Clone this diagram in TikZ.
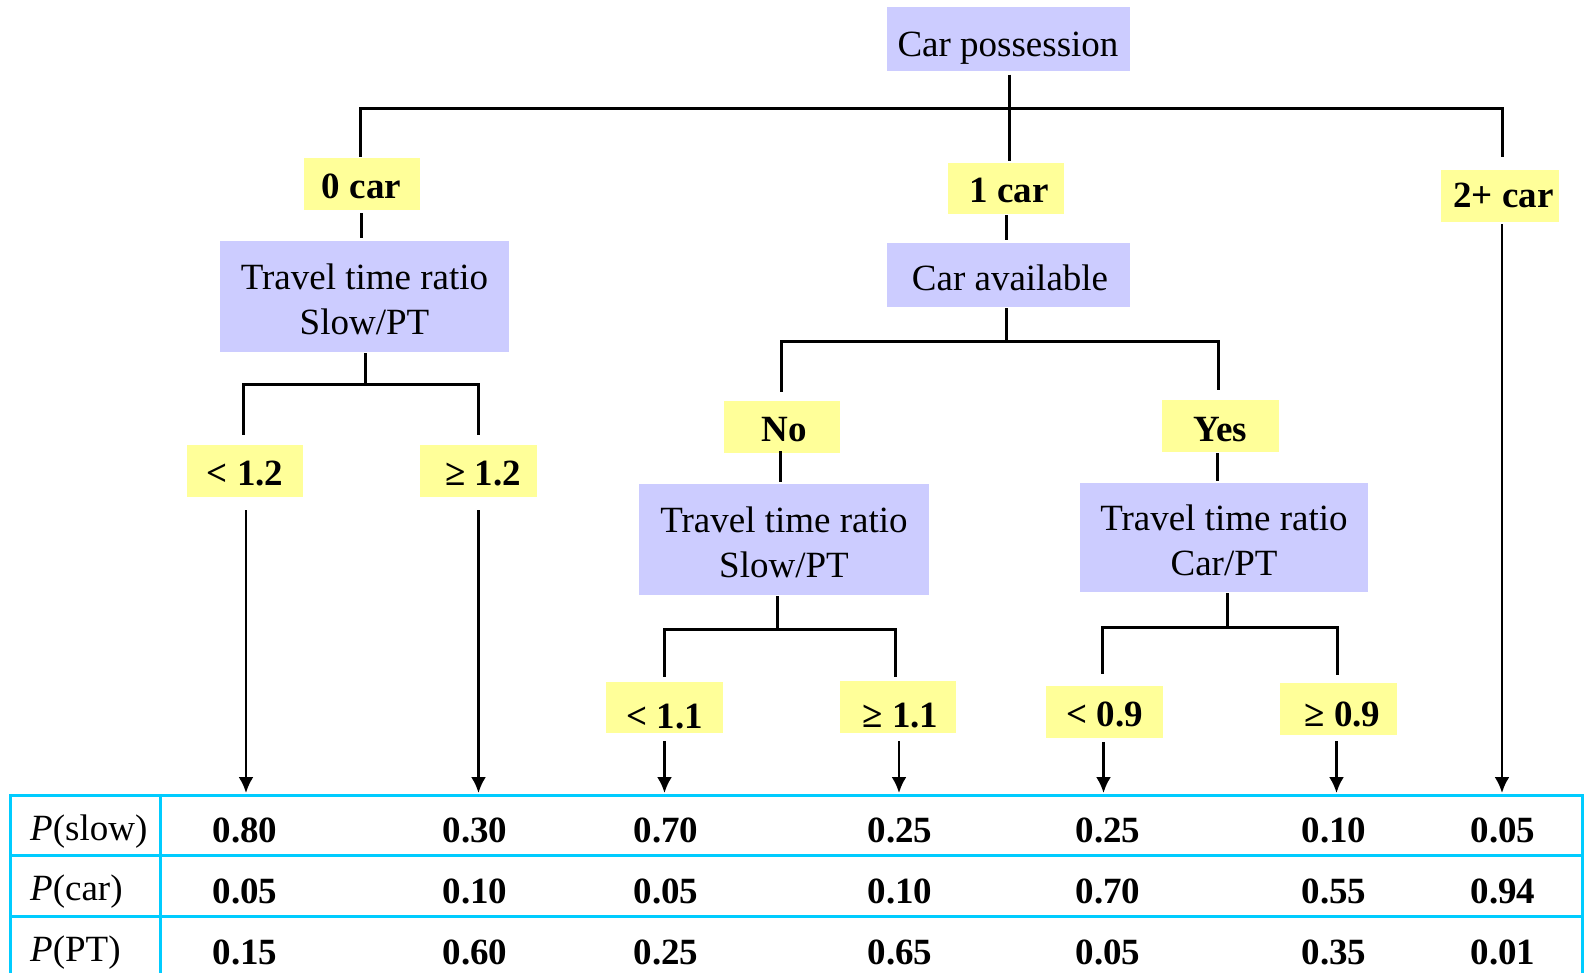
\documentclass[tikz,border=0pt]{standalone}
\usepackage{fontspec}
\setmainfont{Liberation Serif}
\usetikzlibrary{arrows.meta,calc}
\definecolor{boxblue}{RGB}{204,204,255}
\definecolor{boxyellow}{RGB}{255,255,153}
\definecolor{gridcyan}{RGB}{0,204,255}
\newcommand{\twolines}[2]{\begin{tabular}[b]{@{}c@{}}#1\\#2\end{tabular}}
\begin{document}
\begin{tikzpicture}[x=1pt,y=-1pt,
  every node/.style={inner sep=0pt, font=\fontsize{37}{45}\selectfont},
  question/.style={fill=boxblue, text depth=0pt},
  answer/.style={fill=boxyellow, text depth=0pt, font=\fontsize{37}{45}\selectfont\bfseries},
  link/.style={line width=3pt},
  leaf/.style={line width=2.5pt, -{Latex[length=16pt,width=15pt]}},
  grid/.style={line width=3pt, draw=gridcyan},
  val/.style={anchor=base, font=\fontsize{37}{45}\selectfont\bfseries},
  rowlab/.style={anchor=base west}]
\useasboundingbox (0,0) rectangle (1585,973);

% decision nodes (text height = twice the drop of the last baseline below the centre)
\node[question, minimum width=243pt, minimum height=64pt, text height=34pt] (root)  at (1008,39.5)  {Car possession};
\node[question, minimum width=289pt, minimum height=111pt, text height=77pt] (t1)   at (364.5,296.5) {\twolines{Travel time ratio}{Slow/PT}};
\node[question, minimum width=243pt, minimum height=64pt, text height=32pt] (avail) at (1008,275)   {\hspace*{4pt}Car available};
\node[question, minimum width=290pt, minimum height=111pt, text height=76pt] (t2)   at (784,539.5)  {\twolines{Travel time ratio}{Slow/PT}};
\node[question, minimum width=288pt, minimum height=109pt, text height=75pt] (t3)   at (1224,537.5) {\twolines{Travel time ratio}{Car/PT}};

% branch labels
\node[answer, minimum width=116pt, minimum height=52pt, text height=30pt] (car0) at (361.5,184)  {0 car};
\node[answer, minimum width=116pt, minimum height=51pt, text height=28pt] (car1) at (1006,188.5) {\hspace*{6pt}1 car};
\node[answer, minimum width=118pt, minimum height=52pt, text height=24pt] (car2) at (1500,196)   {\hspace*{7pt}2+ car};
\node[answer, minimum width=116pt, minimum height=52pt, text height=30pt] (no)   at (782,427)    {\hspace*{4pt}No};
\node[answer, minimum width=117pt, minimum height=52pt, text height=30pt] (yes)  at (1220.5,426) {Yes};
\node[answer, minimum width=116pt, minimum height=52pt, text height=28pt] (l12)  at (245,471)    {< 1.2};
\node[answer, minimum width=117pt, minimum height=52pt, text height=28pt] (g12)  at (478.5,471)  {\hspace*{9pt}≥ 1.2};
\node[answer, minimum width=117pt, minimum height=51pt, text height=41pt] (l11)  at (664.5,707.5) {< 1.1};
\node[answer, minimum width=116pt, minimum height=52pt, text height=40pt] (g11)  at (898,707)    {\hspace*{5pt}≥ 1.1};
\node[answer, minimum width=117pt, minimum height=52pt, text height=28pt] (l09)  at (1104.5,712) {< 0.9};
\node[answer, minimum width=117pt, minimum height=52pt, text height=35pt] (g09)  at (1338.5,709) {\hspace*{8pt}≥ 0.9};

% junction points
\coordinate (jtop)   at (1009,109);
\coordinate (jt1)    at (365,385);
\coordinate (javail) at (1006,342);
\coordinate (jt2)    at (777,629);
\coordinate (jt3)    at (1227,627);
\coordinate (ttop)   at (0,793);

% tree connectors
\draw[link] ($(jtop |- root.south)+(0,3)$) -- (jtop);
\draw[link] ($(car0.north)+(-1,-1)$) |- (jtop) -| ($(car2.north)+(2,-13)$);
\draw[link] (jtop) -- ($(jtop |- car1.north)+(0,-2)$);
\draw[link] ($(car0.south)+(0,3)$) -- ($(car0.south |- t1.north)+(0,-3)$);
\draw[link] ($(jt1 |- t1.south)+(0,1)$) -- (jt1);
\draw[link] ($(l12.north)+(-2,-10)$) |- (jt1) -| ($(g12.north)+(0,-10)$);

\draw[link] ($(car1.south)+(0,1)$) -- ($(car1.south |- avail.north)+(0,-3)$);
\draw[link] ($(javail |- avail.south)+(0,1)$) -- (javail);
\draw[link] ($(no.north)+(-1,-9)$) |- (javail) -| ($(yes.north)+(-2,-10)$);
\draw[link] ($(no.south)+(-2,-2)$) -- ($(no.south |- t2.north)+(-2,-2)$);
\draw[link] ($(yes.south)+(-3,1)$) -- ($(yes.south |- t3.north)+(-3,-2)$);

\draw[link] ($(jt2 |- t2.south)+(0,1)$) -- (jt2);
\draw[link] ($(l11.north)+(0,-5)$) |- (jt2) -| ($(g11.north)+(-3,-4)$);
\draw[link] ($(jt3 |- t3.south)+(0,1)$) -- (jt3);
\draw[link] ($(l09.north)+(-2,-12)$) |- (jt3) -| ($(g09.north)+(-1,-8)$);

% arrows into the table
\draw[leaf] ($(l12.south)+(1,13)$) -- ($(l12.south |- ttop)+(1,0)$);
\draw[leaf] ($(g12.south)+(0,13)$) -- (g12.south |- ttop);
\draw[leaf] ($(l11.south)+(0,8)$)  -- (l11.south |- ttop);
\draw[leaf] ($(g11.south)+(1,8)$)  -- ($(g11.south |- ttop)+(1,0)$);
\draw[leaf] ($(l09.south)+(-1,4)$) -- ($(l09.south |- ttop)+(-1,0)$);
\draw[leaf] ($(g09.south)+(-2,6)$) -- ($(g09.south |- ttop)+(-2,0)$);
\draw[leaf] ($(car2.south)+(2,2)$) -- ($(car2.south |- ttop)+(2,0)$);

% probability table
\draw[grid] (10,980) -- (10,795) -- (1582,795) -- (1582,980);
\draw[grid] (10,855) -- (1582,855);
\draw[grid] (10,916) -- (1582,916);
\draw[grid] (160,795) -- (160,980);

\node[rowlab] (pslow) at (30,840) {\textit{P}(slow)};
\node[rowlab] (pcar)  at (30,900) {\textit{P}(car)};
\node[rowlab] (ppt)   at (30,961) {\textit{P}(PT)};

\foreach \x/\a/\b/\c [count=\i] in {245/0.80/0.05/0.15, 475/0.30/0.10/0.60, 666/0.70/0.05/0.25,
    900/0.25/0.10/0.65, 1108/0.25/0.70/0.05, 1334/0.10/0.55/0.35, 1503/0.05/0.94/0.01} {
  \node[val] (vs\i) at (\x,842) {\a};
  \node[val] (vc\i) at (\x,903) {\b};
  \node[val] (vp\i) at (\x,964) {\c};
}
\end{tikzpicture}
\end{document}
